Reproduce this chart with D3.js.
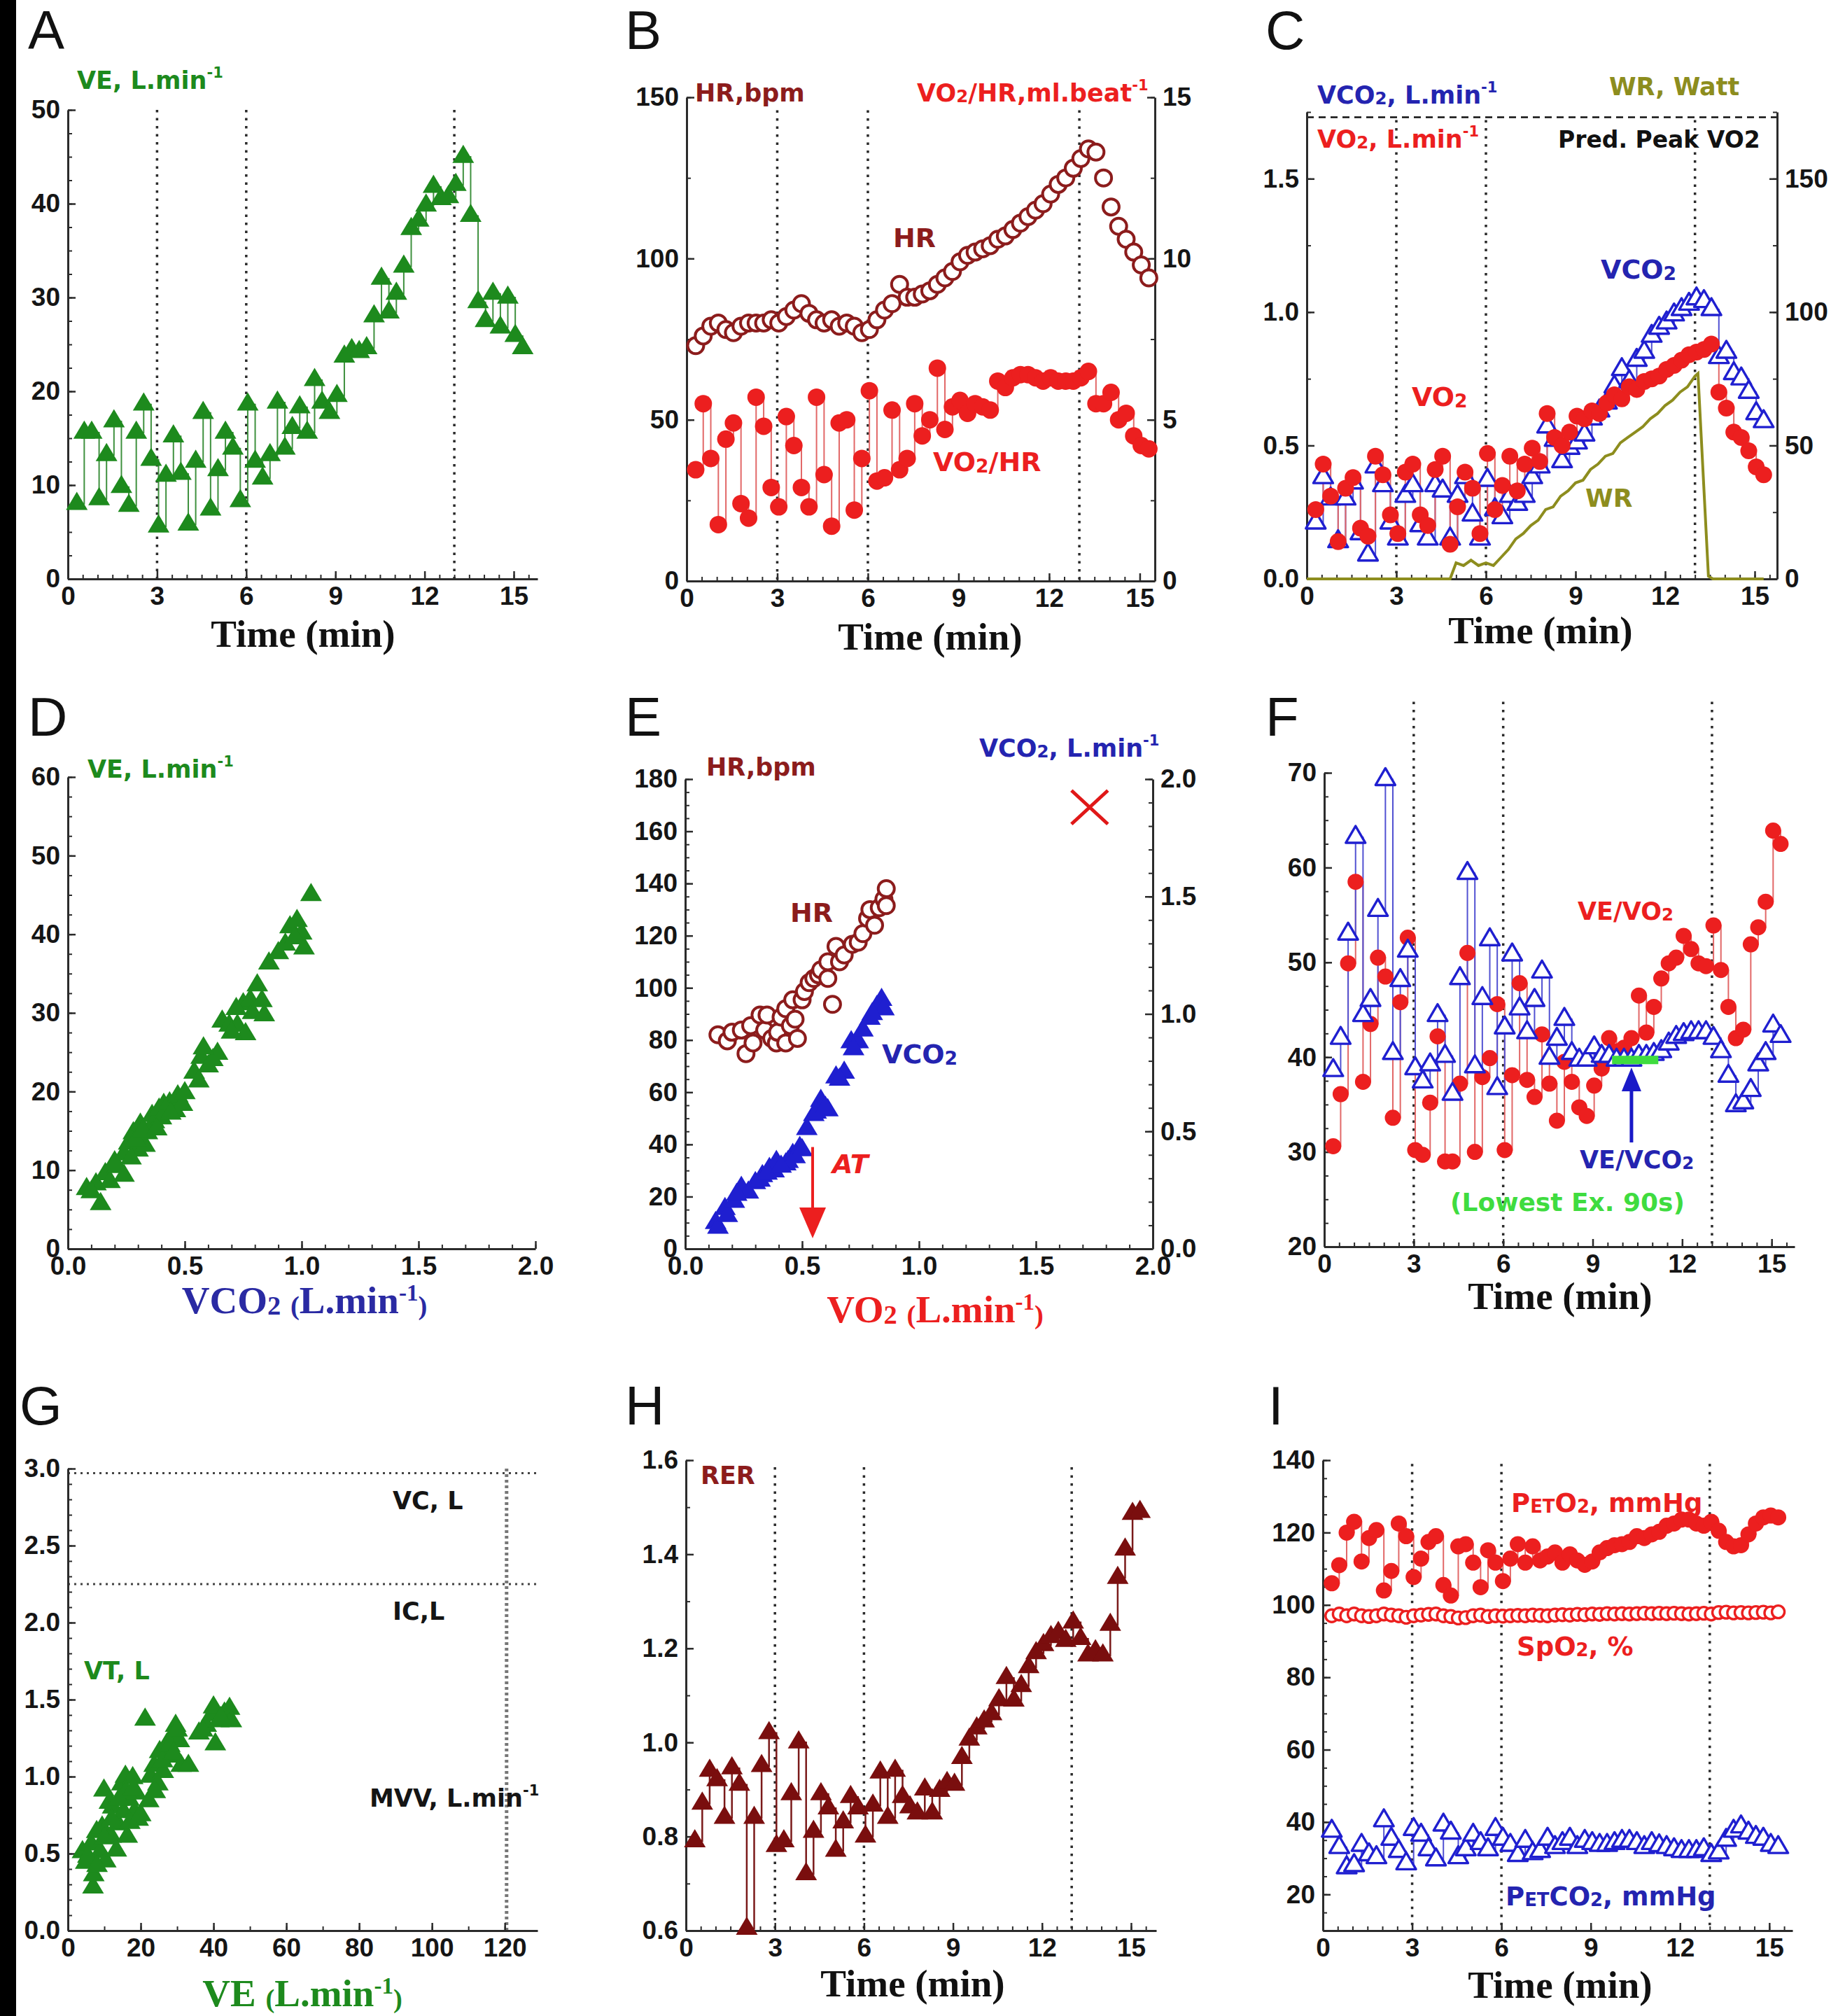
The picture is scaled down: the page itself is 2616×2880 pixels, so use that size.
<!DOCTYPE html>
<html lang="en">
<head>
<meta charset="utf-8">
<title>CPET 9-panel</title>
<script src="https://cdn.jsdelivr.net/npm/d3@7"></script>
<style>
  html, body { margin: 0; padding: 0; background: white; }
  svg { display: block; }
  text { white-space: pre; }
</style>
</head>
<body>
<script>

// ---- time grid shared by the time-course panels (min)
var T = [0.3,0.55,0.8,1.05,1.3,1.55,1.8,2.05,2.3,2.55,2.8,3.05,3.3,3.55,3.8,4.05,4.3,4.55,4.8,5.05,
         5.3,5.55,5.8,6.05,6.3,6.55,6.8,7.05,7.3,7.55,7.8,8.05,8.3,8.55,8.8,9.05,9.3,9.55,9.8,10.05,
         10.3,10.55,10.8,11.05,11.3,11.55,11.8,12.05,12.3,12.55,12.8,13.05,13.3,13.55,13.8,14.05,14.3,14.55,14.8,15.05,15.3];
var phaseTimes = [3, 6, 13];
var timeTicks = [0, 3, 6, 9, 12, 15];

// A: VE, L/min
var ve = [8.0,15.6,15.6,8.5,13.2,16.8,9.8,7.8,15.6,18.6, 12.7,5.6,11,15.2,11.2,5.8,12.5,17.7,7.4,11.6,
          15.6,13.9,8.3,18.6,12.5,10.7,13.2,18.8,13.9,16.1, 18.3,15.6,21.2,18.8,17.7,19.5,23.7,24.4,24.2,24.6,
          28,32,28.4,30.4,33.3,37.3,38.2,39.8,41.8,40.5, 40.7,42,45,38.7,29.5,27.5,30.4,26.8,30,25.9, 24.6];

// B: HR (bpm) and O2 pulse (ml/beat)
var hr = [73,76,79,80,78,77,79,80,80,80, 81,80,82,84,86,83,81,80,81,79, 80,79,77,78,81,84,86,92,88,88,
          89,90,92,94,96,99,101,102,103,104, 106,107,109,111,113,115,117,120,123,125, 128,131,134,133,125,116,110,106,102,98, 94];
var o2pulse = [3.45,5.5,3.8,1.75,4.4,4.9,2.4,1.95,5.7,4.8, 2.9,2.3,5.1,4.2,2.9,2.3,5.7,3.3,1.7,4.9,
               5.0,2.2,3.8,5.9,3.1,3.2,5.3,3.45,3.8,5.5, 4.5,5.0,6.6,4.7,5.4,5.6,5.2,5.5,5.4,5.3,
               6.2,6.0,6.3,6.4,6.4,6.3,6.2,6.3,6.2,6.2, 6.2,6.3,6.5,5.5,5.5,5.85,5.0,5.2,4.5,4.2, 4.1];

// C: VO2, VCO2 (L/min), work rate (W)
var vo2 = [0.26,0.43,0.31,0.14,0.34,0.38,0.19,0.16,0.46,0.39, 0.24,0.17,0.40,0.43,0.24,0.20,0.41,0.46,0.13,0.27,
           0.40,0.34,0.17,0.47,0.26,0.35,0.46,0.33,0.43,0.49, 0.44,0.62,0.53,0.50,0.55,0.61,0.60,0.63,0.62,0.66,
           0.69,0.675,0.72,0.71,0.74,0.75,0.76,0.785,0.80,0.82, 0.84,0.85,0.86,0.88,0.70,0.64,0.55,0.53,0.48,0.42, 0.39];
var vco2 = [0.21,0.38,0.30,0.14,0.30,0.36,0.17,0.09,0.42,0.35, 0.21,0.15,0.31,0.35,0.20,0.15,0.35,0.33,0.15,0.31,
            0.38,0.24,0.15,0.37,0.26,0.23,0.31,0.28,0.31,0.38, 0.42,0.57,0.52,0.44,0.49,0.51,0.54,0.60,0.63,0.66,
            0.72,0.785,0.74,0.82,0.85,0.91,0.94,0.96,0.99,1.01, 1.03,1.05,1.04,1.01,0.83,0.85,0.77,0.75,0.70,0.62, 0.59];
var wrTime = [0,4.8,5.0,5.25,5.5,5.75,6.0,6.25,6.5,6.75, 7.0,7.25,7.5,7.75,8.0,8.25,8.5,8.75,9.0,9.25,
              9.5,9.75,10.0,10.25,10.5,10.75,11.0,11.25,11.5,11.75, 12.0,12.25,12.5,12.75,13.0,13.1,13.45,13.6,15.3];
var wrWatt = [0,0,6,5,7,5,6,5,8,11, 15,17,20,22,26,27,31,33,36,37, 41,43,46,47,51,53,55,57,60,62, 65,67,70,72,76,77,1,0,0];
var predPeakVo2 = 1.73;

// D: VE vs VCO2
var dVco2 = [0.08,0.12,0.14,0.16,0.18,0.21,0.24,0.24,0.26,0.28, 0.30,0.31,0.33,0.34,0.36,0.37,0.39,0.40,0.41,0.435,
             0.46,0.47,0.49,0.54,0.56,0.57,0.60,0.62,0.64,0.66, 0.69,0.725,0.75,0.76,0.78,0.79,0.81,0.84,0.86,0.90,
             0.93,0.95,0.98,1.0,1.01,1.04, 0.10,0.20,0.27,0.29,0.32,0.38,0.44,0.50,0.58,0.70,0.72,0.83,0.97];
var dVe = [7.6,8.2,5.7,9.5,8.5,10.4,9.3,12,13.4,14.7, 12.5,15.8,13.1,14.7,16.9,16.1,17.7,16.6,18.3,18.5,
           17.5,19.4,18.3,22.4,21.3,24.3,23.2,24,24.8,28.9, 28.4,28.4,31.1,27.3,31.6,30,33.5,29.7,36.3,37.6,
           38.7,40.9,41.7,40.1,38.2,45, 7.2,11,11.5,13.8,15,15.2,17.2,19.8,25.5,27.5,30.5,31.5,39.5];

// E: HR vs VO2 and VCO2 vs VO2
var eVo2Hr = [0.14,0.18,0.2,0.24,0.26,0.28,0.29,0.32,0.34,0.35, 0.37,0.39,0.395,0.41,0.43,0.43,0.45,0.46,0.47,0.48,
              0.50,0.51,0.53,0.55,0.57,0.58,0.61,0.63,0.61,0.645, 0.66,0.68,0.715,0.74,0.76,0.78,0.79,0.81,0.83,0.85, 0.86,0.86];
var eHr = [82,79.7,83,83.8,74.8,85.5,78.9,89.6,83.8,89.6, 80.6,78.9,83,88.8,92,78.9,85.5,95.4,88,80.6,
           95.4,98.6,102,103.6,105,106.9,103.6,93.7,110,115.9, 110,112.6,116.7,117.5,120.8,126.6,130,124,130.7,134, 138,131.5];
var eVo2Co2 = [0.13,0.14,0.17,0.18,0.24,0.27,0.30,0.32,0.33,0.36, 0.38,0.39,0.43,0.44,0.46,0.49,0.52,0.55,0.58,0.61,
               0.645,0.68,0.71,0.74,0.76,0.79,0.82,0.84,0.85, 0.21,0.22,0.35,0.41,0.47,0.50,0.56,0.60,0.66,0.72,0.80];
var eVco2 = [0.11,0.09,0.17,0.14,0.26,0.24,0.28,0.29,0.31,0.34, 0.33,0.37,0.36,0.37,0.40,0.43,0.51,0.57,0.63,0.59,
             0.73,0.75,0.88,0.88,0.93,0.98,1.03,1.06,1.02, 0.20,0.23,0.32,0.35,0.39,0.42,0.58,0.60,0.72,0.85,1.0];
var atVo2 = 0.545;
var predPeak = { vo2: 1.73, vco2: 1.88 };

// F: ventilatory equivalents
var veVo2 = [30.6,36.1,49.9,58.5,37.4,43.5,50.5,48.5,33.6,45.8, 52.6,30.2,29.7,35.2,42.2,29,29,37.2,51,30,
             37.9,39.9,45.6,30.2,38.1,47.8,37.6,35.8,42.4,37.2, 33.3,39.5,37.4,34.7,33.8,37,38.8,42,40.6,41,
             42,46.5,42.6,45.3,48.3,49.9,50.5,52.8,51.4,49.9, 49.6,53.9,49.2,45.3,42,42.9,51.9,53.7,56.4,63.9, 62.5];
var veVco2 = [38.6,42,53,63.2,44.4,46,55.5,69.3,40.4,48.1, 51.2,38.8,37.4,39.2,44.4,40.1,36.1,48.3,59.4,39,
              46.2,52.4,36.7,43.1,50.8,45.1,42.6,46,49,39.9, 41.9,44,40.4,39.7,39.7,41,40.1,40.1,39.7,39.7,
              39.7,40.1,40.1,40.3,40.6,41.4,42.1,42.4,42.6,42.6, 42.6,42,40.6,38,34.9,35.2,36.5,39.2,40.4,43.3, 42.2];
var lowestWindow = [9.65, 11.2];
var lowestVeVco2 = 39.7;
var arrowTime = 10.3;

// G: VT vs VE
var gVe = [4,4.9,6.4,6.9,7.1,7.9,8.9,9.4,9.9,10.4, 11.4,11.9,12.3,13.3,13.8,14.8,15.3,15.8,16.3,16.8,
           17.8,18.3,18.8,19.3,21.2,22.2,22.7,23.7,24.7,25.2, 26.2,27.2,28.1,29.1,29.6,30.6,31.1,33.1,36,38,
           39.5,40,40.5,41.5,43,44.4,44.9, 5.5,8,10,12,14,16,17,18,20,24,26,28,30,29,37,42];
var gVt = [0.51,0.44,0.56,0.28,0.36,0.64,0.51,0.67,0.91,0.45, 0.83,0.61,0.8,0.52,0.69,0.95,0.77,1.0,0.61,0.85,
           0.99,0.77,0.89,0.72,1.37,0.84,1.0,1.07,0.95,1.16, 1.03,1.21,1.13,1.28,1.33,1.23,1.07,1.07,1.28,1.33,
           1.4,1.45,1.21,1.36,1.41,1.44,1.36, 0.48,0.42,0.6,0.72,0.85,0.9,0.7,0.92,0.75,0.9,1.1,1.2,1.3,1.15,1.3,1.38];
var vcLitre = 2.97, icLitre = 2.25, mvv = 120.5;

// H: RER
var rer = [0.79,0.87,0.94,0.92,0.84,0.945,0.91,0.604,0.84,0.95, 1.02,0.78,0.79,0.89,1.0,0.72,0.81,0.89,0.86,0.77,
           0.83,0.884,0.86,0.8,0.866,0.936,0.84,0.94,0.884,0.862, 0.849,0.9,0.849,0.897,0.914,0.91,0.967,1.006,1.03,1.045,
           1.06,1.09,1.137,1.089,1.12,1.16,1.19,1.207,1.224,1.233, 1.216,1.255,1.22,1.185,1.194,1.185,1.25,1.35,1.41,1.486, 1.49];

// I: end-tidal gases and saturation
var peto2 = [106,111,120,123,112,118.5,120.7,104,109.4,122.5, 119,107.7,112.8,117.4,119,105.5,102.6,116.2,116.8,111.7,
             104.9,115.1,111.7,106.6,112.8,116.8,111.7,116.2,112.3,113.4, 114.5,111.7,114,112.3,111.1,112,114.5,115.7,116.5,116.8,
             117.4,119,118.5,119.5,120.2,121.9,122.5,123.6,123.6,122.5, 121.9,123,120.5,117.4,116.2,116.5,119.5,122.5,124.2,124.7, 124.2];
var spo2 = [97,97.5,97,97.5,97,96.8,97,97.5,97.2,97, 96.6,97,97.2,97.4,97.5,97,96.8,96.4,96.5,97,
            97.2,96.8,97,96.9,97,97.1,97,97.2,97.1,97, 97.2,97.3,97.2,97.4,97.3,97.5,97.4,97.6,97.5,97.6,
            97.5,97.6,97.7,97.6,97.7,97.6,97.7,97.6,97.5,97.6, 97.7,97.5,97.9,98,97.8,97.9,97.8,97.9,98,97.8, 98.1];
var petco2 = [37.5,33,27.4,28,33.6,31,30.2,40.4,35.3,31.9, 28.5,38,36.4,32.4,29.6,39.2,37,30.2,32.4,36.4,
              34.1,32.4,38,35.3,33.6,30.8,34.7,31.3,31.9,35.3, 33,34.1,35.3,33,34.7,34.1,33.6,33.6,34.1,34.7,
              34.7,34.1,33,34.1,33.5,33,32.4,31.9,31.9,31.9, 32.4,30.8,31.5,35,37.5,38.7,37,35.8,35.3,33.6, 33];

// ---- look
var W = 2616, H = 2880;
var SANS = "'Liberation Sans', Arial, sans-serif";
var LAB = "'DejaVu Sans', Verdana, sans-serif";
var SERIF = "'Liberation Serif', 'Times New Roman', serif";
var AX = "#2b2b2b";
var GREEN = "#1d8a1d", GREEN_L = "#3f913f";
var DKRED = "#8c1c1c", HRED = "#7a0e0e";
var RED = "#ec1f1f", RED_L = "#e26868";
var BLUE = "#1f1fd0", BLUE_L = "#5252d2", TXTBLUE = "#2424b0";
var OLIVE = "#8d8d1e", LIME = "#3fdc3f";

var svg = d3.select("body").append("svg").attr("width", W).attr("height", H);
svg.append("rect").attr("width", W).attr("height", H).attr("fill", "white");
svg.append("rect").attr("x", 0).attr("y", 0).attr("width", 23).attr("height", H).attr("fill", "#000");

function addAxis(g, axis, tr, major, minor, fmt) {
  g.append("g").attr("transform", tr)
    .call(axis.tickValues(minor).tickFormat("").tickSize(-6).tickSizeOuter(0))
    .call(function(a) {
      a.select(".domain").remove();
      a.selectAll("line").attr("stroke", AX).attr("stroke-width", 2);
    });
  var a = g.append("g").attr("transform", tr)
    .call(axis.tickValues(major).tickFormat(fmt).tickSize(-11).tickSizeOuter(0).tickPadding(11));
  a.attr("font-family", SANS).attr("font-size", 37).attr("font-weight", "bold");
  a.select(".domain").attr("stroke", AX).attr("stroke-width", 3);
  a.selectAll(".tick line").attr("stroke", AX).attr("stroke-width", 2.5);
  a.selectAll(".tick text").attr("fill", "#151515");
}

function steps(lo, hi, step) {
  return d3.range(Math.round((hi - lo) / step) + 1).map(function(i) { return +(lo + i * step).toFixed(4); });
}

function makePanel(c) {
  var p = { g: svg.append("g") };
  p.x = d3.scaleLinear().domain(c.xd).range(c.xr);
  p.y = d3.scaleLinear().domain(c.yd).range(c.yr);
  if (c.y2d) p.y2 = d3.scaleLinear().domain(c.y2d).range(c.yr);
  p.back = p.g.append("g");
  p.axes = p.g.append("g");
  p.data = p.g.append("g");
  p.top = p.g.append("g");
  addAxis(p.axes, d3.axisBottom(p.x), "translate(0," + c.yr[0] + ")", c.xt, c.xm, c.xf);
  addAxis(p.axes, d3.axisLeft(p.y), "translate(" + c.xr[0] + ",0)", c.yt, c.ym, c.yf);
  if (c.y2d) addAxis(p.axes, d3.axisRight(p.y2), "translate(" + c.xr[1] + ",0)", c.y2t, c.y2m, c.y2f);
  p.top.append("text").attr("x", c.letter[1]).attr("y", c.letter[2]).text(c.letter[0])
    .attr("font-family", SANS).attr("font-size", 78).attr("fill", "#111");
  return p;
}

// text with small "2", superscripts
function rich(g, x, y, parts, fill, size, family, extra) {
  var t = g.append("text").attr("x", x).attr("y", y).attr("fill", fill)
    .attr("font-family", family || LAB).attr("font-weight", "bold").attr("font-size", size);
  if (extra) extra(t);
  var shift = 0, supUp = family === SERIF ? 0.32 : 0.45;
  parts.forEach(function(pt) {
    var kind = pt[1], target = 0, fs = size;
    if (kind === "sup") { target = -supUp * size; fs = size * 0.6; }
    if (kind === "sm") { target = 0.04 * size; fs = size * 0.7; }
    t.append("tspan").attr("dy", target - shift).attr("font-size", fs).text(pt[0]);
    shift = target;
  });
  return t;
}

function timeTitle(p, cx, by) {
  p.top.append("text").attr("x", cx).attr("y", by).attr("text-anchor", "middle")
    .attr("font-family", SERIF).attr("font-weight", "bold").attr("font-size", 55).attr("fill", "#111")
    .text("Time (min)");
}

function phaseLines(p, v0, v1) {
  p.back.selectAll(null).data(phaseTimes).enter().append("line")
    .attr("x1", function(d) { return p.x(d); }).attr("x2", function(d) { return p.x(d); })
    .attr("y1", p.y(v0)).attr("y2", p.y(v1))
    .attr("stroke", "#2a2a2a").attr("stroke-width", 3.5).attr("stroke-dasharray", "3.5,8");
}

function stepLine(p, xs, ys, color, ysc, sw) {
  var sy = ysc || p.y;
  p.data.append("path").datum(ys)
    .attr("d", d3.line().x(function(d, i) { return p.x(xs[i]); }).y(function(d) { return sy(d); }).curve(d3.curveStepAfter))
    .attr("fill", "none").attr("stroke", color).attr("stroke-width", sw || 2);
}

// slightly flattened up-pointing triangle, width w, height h
function triPath(w, h) {
  return "M0," + (-h * 2 / 3) + "L" + (w / 2) + "," + (h / 3) + "L" + (-w / 2) + "," + (h / 3) + "Z";
}

function triangles(p, xs, ys, fill, stroke, ysc, w, h) {
  var sy = ysc || p.y;
  var d = stroke ? triPath(w || 28, h || 24) : triPath(w || 31, h || 26);
  p.data.append("g").selectAll("path").data(ys).enter().append("path")
    .attr("d", d)
    .attr("transform", function(v, i) { return "translate(" + p.x(xs[i]) + "," + sy(v) + ")"; })
    .attr("fill", fill).attr("stroke", stroke || "none").attr("stroke-width", stroke ? 3.4 : 0)
    .attr("stroke-linejoin", "round");
}

function dots(p, xs, ys, r, fill, stroke, sw, ysc) {
  var sy = ysc || p.y;
  p.data.append("g").selectAll("circle").data(ys).enter().append("circle")
    .attr("cx", function(d, i) { return p.x(xs[i]); }).attr("cy", function(d) { return sy(d); })
    .attr("r", r).attr("fill", fill).attr("stroke", stroke || "none").attr("stroke-width", sw || 0);
}

var fmtInt = d3.format("d"), fmt1 = d3.format(".1f");

// ================= A =================
var pA = makePanel({ xd: [0, 15.8], xr: [97, 768], yd: [0, 50], yr: [827, 157],
  xt: timeTicks, xm: steps(0, 15.5, 0.5), xf: fmtInt, yt: steps(0, 50, 10), ym: steps(0, 50, 2.5), yf: fmtInt,
  letter: ["A", 40, 70] });
phaseLines(pA, 50, 0);
stepLine(pA, T, ve, GREEN_L);
triangles(pA, T, ve, GREEN);
rich(pA.top, 110, 127, [["VE, L.min"], ["-1", "sup"]], GREEN, 35);
timeTitle(pA, 433, 924);

// ================= B =================
var pB = makePanel({ xd: [0, 15.5], xr: [981, 1650], yd: [0, 150], yr: [830, 139],
  xt: timeTicks, xm: steps(0, 15.5, 0.5), xf: fmtInt, yt: steps(0, 150, 50), ym: steps(0, 150, 25), yf: fmtInt,
  y2d: [0, 15], y2t: steps(0, 15, 5), y2m: steps(0, 15, 2.5), y2f: fmtInt,
  letter: ["B", 893, 70] });
phaseLines(pB, 146, 0);
stepLine(pB, T, o2pulse, RED_L, pB.y2);
dots(pB, T, o2pulse, 12.5, RED, null, 0, pB.y2);
dots(pB, T, hr, 11.5, "white", DKRED, 4);
rich(pB.top, 993, 145, [["HR,bpm"]], DKRED, 35);
rich(pB.top, 1310, 145, [["VO"], ["2", "sm"], ["/HR,ml.beat"], ["-1", "sup"]], RED, 35);
rich(pB.top, 1276, 353, [["HR"]], DKRED, 38);
rich(pB.top, 1333, 673, [["VO"], ["2", "sm"], ["/HR"]], RED, 38);
timeTitle(pB, 1329, 928);

// ================= C =================
var pC = makePanel({ xd: [0, 15.75], xr: [1867, 2539], yd: [0, 1.75], yr: [827, 160],
  xt: timeTicks, xm: steps(0, 15.5, 0.5), xf: fmtInt, yt: steps(0, 1.5, 0.5), ym: steps(0, 1.75, 0.25), yf: fmt1,
  y2d: [0, 175], y2t: steps(0, 150, 50), y2m: steps(0, 175, 25), y2f: fmtInt,
  letter: ["C", 1808, 70] });
phaseLines(pC, 1.72, 0);
pC.back.append("line").attr("x1", pC.x(0)).attr("x2", pC.x(15.75))
  .attr("y1", pC.y(predPeakVo2)).attr("y2", pC.y(predPeakVo2))
  .attr("stroke", "#111").attr("stroke-width", 2.5).attr("stroke-dasharray", "10,7");
pC.data.append("path").datum(wrWatt)
  .attr("d", d3.line().x(function(d, i) { return pC.x(wrTime[i]); }).y(function(d) { return pC.y2(d); }))
  .attr("fill", "none").attr("stroke", OLIVE).attr("stroke-width", 4);
stepLine(pC, T, vco2, BLUE_L);
stepLine(pC, T, vo2, RED_L);
triangles(pC, T, vco2, "white", BLUE);
dots(pC, T, vo2, 12, RED);
rich(pC.top, 1882, 148, [["VCO"], ["2", "sm"], [", L.min"], ["-1", "sup"]], TXTBLUE, 35);
rich(pC.top, 1882, 211, [["VO"], ["2", "sm"], [", L.min"], ["-1", "sup"]], RED, 35);
rich(pC.top, 2299, 136, [["WR, Watt"]], OLIVE, 35);
rich(pC.top, 2226, 211, [["Pred. Peak VO2"]], "#111", 33);
rich(pC.top, 2287, 398, [["VCO"], ["2", "sm"]], TXTBLUE, 38);
rich(pC.top, 2017, 580, [["VO"], ["2", "sm"]], RED, 38);
rich(pC.top, 2265, 724, [["WR"]], OLIVE, 36);
timeTitle(pC, 2201, 919);

// ================= D =================
var pD = makePanel({ xd: [0, 2], xr: [97, 765], yd: [0, 60], yr: [1784, 1110],
  xt: steps(0, 2, 0.5), xm: steps(0, 2, 0.1), xf: fmt1, yt: steps(0, 60, 10), ym: steps(0, 60, 2.5), yf: fmtInt,
  letter: ["D", 40, 1051] });
triangles(pD, dVco2, dVe, GREEN);
rich(pD.top, 125, 1111, [["VE, L.min"], ["-1", "sup"]], GREEN, 35);
rich(pD.top, 435, 1876, [["VCO"], ["2", "sm"], [" "], ["(", "sm"], ["L.min"], ["-1", "sup"], [")", "sm"]], "#2a2aa3", 55, SERIF,
  function(t) { t.attr("text-anchor", "middle"); });

// ================= E =================
var pE = makePanel({ xd: [0, 2], xr: [979, 1647], yd: [0, 180], yr: [1784, 1113],
  xt: steps(0, 2, 0.5), xm: steps(0, 2, 0.1), xf: fmt1, yt: steps(0, 180, 20), ym: steps(0, 180, 5), yf: fmtInt,
  y2d: [0, 2], y2t: steps(0, 2, 0.5), y2m: steps(0, 2, 0.1), y2f: fmt1,
  letter: ["E", 893, 1051] });
triangles(pE, eVo2Co2, eVco2, BLUE, null, pE.y2);
dots(pE, eVo2Hr, eHr, 11.5, "white", DKRED, 4);
// anaerobic threshold arrow
pE.top.append("line").attr("x1", pE.x(atVo2)).attr("x2", pE.x(atVo2))
  .attr("y1", pE.y(39)).attr("y2", pE.y(14)).attr("stroke", RED).attr("stroke-width", 4);
pE.top.append("path")
  .attr("d", "M" + (pE.x(atVo2) - 19) + "," + (pE.y(4) - 44) + "L" + (pE.x(atVo2) + 19) + "," + (pE.y(4) - 44) +
             "L" + pE.x(atVo2) + "," + pE.y(4) + "Z")
  .attr("fill", RED);
// predicted peak marker
var px = pE.x(predPeak.vo2), py = pE.y2(predPeak.vco2);
pE.top.append("path").attr("d", "M" + (px - 26) + "," + (py - 24) + "L" + (px + 26) + "," + (py + 24) +
                                 "M" + (px - 26) + "," + (py + 24) + "L" + (px + 26) + "," + (py - 24))
  .attr("stroke", "#e01818").attr("stroke-width", 5).attr("fill", "none");
rich(pE.top, 1009, 1108, [["HR,bpm"]], DKRED, 35);
rich(pE.top, 1399, 1081, [["VCO"], ["2", "sm"], [", L.min"], ["-1", "sup"]], TXTBLUE, 35);
rich(pE.top, 1129, 1317, [["HR"]], DKRED, 38);
rich(pE.top, 1260, 1519, [["VCO"], ["2", "sm"]], TXTBLUE, 38);
rich(pE.top, 1189, 1676, [["AT"]], RED, 38, LAB, function(t) { t.attr("font-style", "italic"); });
rich(pE.top, 1336, 1889, [["VO"], ["2", "sm"], [" "], ["(", "sm"], ["L.min"], ["-1", "sup"], [")", "sm"]], RED, 55, SERIF,
  function(t) { t.attr("text-anchor", "middle"); });

// ================= F =================
var pF = makePanel({ xd: [0, 15.77], xr: [1892, 2564], yd: [20, 70], yr: [1781, 1104],
  xt: timeTicks, xm: steps(0, 15.5, 0.5), xf: fmtInt, yt: steps(20, 70, 10), ym: steps(20, 70, 2.5), yf: fmtInt,
  letter: ["F", 1808, 1051] });
phaseLines(pF, 77.5, 20);
stepLine(pF, T, veVo2, RED_L);
stepLine(pF, T, veVco2, BLUE_L);
dots(pF, T, veVo2, 11.5, RED);
triangles(pF, T, veVco2, "white", BLUE);
pF.top.append("line").attr("x1", pF.x(lowestWindow[0])).attr("x2", pF.x(lowestWindow[1]))
  .attr("y1", pF.y(lowestVeVco2)).attr("y2", pF.y(lowestVeVco2))
  .attr("stroke", LIME).attr("stroke-width", 12);
pF.top.append("line").attr("x1", pF.x(arrowTime)).attr("x2", pF.x(arrowTime))
  .attr("y1", pF.y(31)).attr("y2", pF.y(37)).attr("stroke", "#1a1ac8").attr("stroke-width", 5);
pF.top.append("path")
  .attr("d", "M" + (pF.x(arrowTime) - 14) + "," + (pF.y(38.9) + 34) + "L" + (pF.x(arrowTime) + 14) + "," + (pF.y(38.9) + 34) +
             "L" + pF.x(arrowTime) + "," + pF.y(38.9) + "Z")
  .attr("fill", "#1a1ac8");
rich(pF.top, 2254, 1314, [["VE/VO"], ["2", "sm"]], RED, 35);
rich(pF.top, 2257, 1669, [["VE/VCO"], ["2", "sm"]], TXTBLUE, 35);
rich(pF.top, 2072, 1730, [["(Lowest Ex. 90s)"]], LIME, 36);
timeTitle(pF, 2229, 1870);

// ================= G =================
var pG = makePanel({ xd: [0, 129], xr: [97, 768], yd: [0, 3], yr: [2758, 2098],
  xt: steps(0, 120, 20), xm: steps(0, 120, 10), xf: fmtInt, yt: steps(0, 3, 0.5), ym: steps(0, 3, 0.1), yf: fmt1,
  letter: ["G", 28, 2035] });
[vcLitre, icLitre].forEach(function(v) {
  pG.back.append("line").attr("x1", pG.x(0)).attr("x2", pG.x(129)).attr("y1", pG.y(v)).attr("y2", pG.y(v))
    .attr("stroke", "#444").attr("stroke-width", 3).attr("stroke-dasharray", "3,6");
});
pG.back.append("line").attr("x1", pG.x(mvv)).attr("x2", pG.x(mvv)).attr("y1", pG.y(3)).attr("y2", pG.y(0))
  .attr("stroke", "#777").attr("stroke-width", 5).attr("stroke-dasharray", "4,4");
triangles(pG, gVe, gVt, GREEN);
rich(pG.top, 561, 2156, [["VC, L"]], "#151515", 35);
rich(pG.top, 561, 2314, [["IC,L"]], "#151515", 35);
rich(pG.top, 528, 2581, [["MVV, L.min"], ["-1", "sup"]], "#151515", 35);
rich(pG.top, 120, 2399, [["VT, L"]], GREEN, 35);
rich(pG.top, 432, 2866, [["VE "], ["(", "sm"], ["L.min"], ["-1", "sup"], [")", "sm"]], GREEN, 55, SERIF,
  function(t) { t.attr("text-anchor", "middle"); });

// ================= H =================
var pH = makePanel({ xd: [0, 15.85], xr: [980, 1652], yd: [0.6, 1.6], yr: [2758, 2086],
  xt: timeTicks, xm: steps(0, 15.5, 0.5), xf: fmtInt, yt: steps(0.6, 1.6, 0.2), ym: steps(0.6, 1.6, 0.1), yf: fmt1,
  letter: ["H", 893, 2035] });
phaseLines(pH, 1.585, 0.6);
stepLine(pH, T, rer, "#7a1a1a", null, 2.5);
triangles(pH, T, rer, HRED);
rich(pH.top, 1001, 2120, [["RER"]], DKRED, 35);
timeTitle(pH, 1304, 2852);

// ================= I =================
var pI = makePanel({ xd: [0, 15.78], xr: [1890, 2561], yd: [10, 140], yr: [2758, 2086],
  xt: timeTicks, xm: steps(0, 15.5, 0.5), xf: fmtInt, yt: steps(20, 140, 20), ym: steps(10, 140, 5), yf: fmtInt,
  letter: ["I", 1812, 2035] });
phaseLines(pI, 139, 10);
stepLine(pI, T, peto2, RED_L);
stepLine(pI, T, petco2, BLUE_L);
dots(pI, T, peto2, 11.5, RED);
dots(pI, T, spo2, 9, "white", RED, 3.4);
triangles(pI, T, petco2, "white", BLUE);
rich(pI.top, 2159, 2160, [["P"], ["ET", "sm"], ["O"], ["2", "sm"], [", mmHg"]], RED, 37);
rich(pI.top, 2167, 2365, [["SpO"], ["2", "sm"], [", %"]], RED, 37);
rich(pI.top, 2151, 2722, [["P"], ["ET", "sm"], ["CO"], ["2", "sm"], [", mmHg"]], TXTBLUE, 37);
timeTitle(pI, 2229, 2854);

</script>
</body>
</html>
